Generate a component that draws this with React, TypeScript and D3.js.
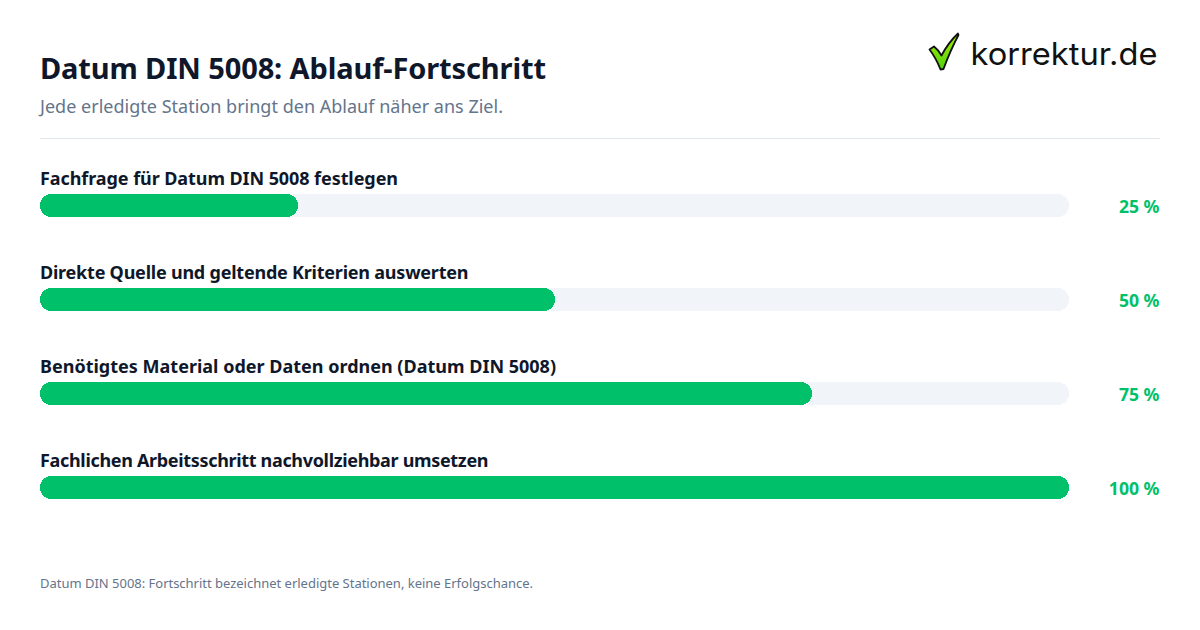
import { useEffect, useRef } from "react";
import * as d3 from "d3";

const steps = [
  "Fachfrage für Datum DIN 5008 festlegen",
  "Direkte Quelle und geltende Kriterien auswerten",
  "Benötigtes Material oder Daten ordnen (Datum DIN 5008)",
  "Fachlichen Arbeitsschritt nachvollziehbar umsetzen",
];
const progress = [25, 50, 75, 100];
// the source font is not installed, so the label lengths are pinned
const stepWidths = [358, 428.5, 516, 448.5];

const width = 1200;
const height = 630;
const font = "'Noto Sans', sans-serif";
const green = "#00c16a";

const buildChart = (ref: SVGSVGElement) => {
  const svg = d3.select(ref);
  svg.selectAll("*").remove();

  const x = d3.scaleLinear().domain([0, 100]).range([40, 1069]);
  const y = d3.scalePoint<string>().domain(steps).range([194, 476]);
  const barHeight = 23;

  svg.append("rect").attr("width", width).attr("height", height).attr("fill", "#fff");

  svg.append("text").text("Datum DIN 5008: Ablauf-Fortschritt")
    .attr("x", 40).attr("y", 79)
    .attr("textLength", 506)
    .attr("font-size", 29).attr("font-weight", 700).attr("fill", "#0f172a");
  svg.append("text").text("Jede erledigte Station bringt den Ablauf näher ans Ziel.")
    .attr("x", 40).attr("y", 113)
    .attr("textLength", 463)
    .attr("font-size", 18).attr("fill", "#64748b");
  svg.append("line")
    .attr("x1", 40).attr("x2", 1160).attr("y1", 138.5).attr("y2", 138.5)
    .attr("stroke", "#e2e8f0");

  const rows = svg.selectAll("g.row").data(steps).enter().append("g").attr("class", "row");

  rows.append("text").text((d) => d)
    .attr("x", 40).attr("y", (d) => y(d)! - 9.5)
    .attr("textLength", (_, i) => stepWidths[i])
    .attr("font-size", 18).attr("font-weight", 700).attr("fill", "#0f172a");

  rows.append("rect")
    .attr("x", x(0)).attr("y", (d) => y(d)!)
    .attr("width", x(100) - x(0)).attr("height", barHeight)
    .attr("rx", barHeight / 2).attr("fill", "#f1f5f9")
    .attr("shape-rendering", "crispEdges");

  rows.append("rect")
    .attr("x", x(0)).attr("y", (d) => y(d)!)
    .attr("width", (_, i) => Math.ceil(x(progress[i])) - x(0)).attr("height", barHeight)
    .attr("rx", barHeight / 2).attr("fill", green)
    .attr("shape-rendering", "crispEdges");

  rows.append("text").text((_, i) => `${progress[i]} %`)
    .attr("x", 1159.5).attr("y", (d) => y(d)! + 19)
    .attr("text-anchor", "end")
    .attr("font-size", 17.6).attr("font-weight", 700).attr("fill", green);

  svg.append("text").text("Datum DIN 5008: Fortschritt bezeichnet erledigte Stationen, keine Erfolgschance.")
    .attr("x", 40).attr("y", 588)
    .attr("textLength", 493)
    .attr("font-size", 13).attr("fill", "#64748b");

  // logo
  const logo = svg.append("g");
  const grad = svg.append("defs").append("linearGradient")
    .attr("id", "tick").attr("x1", 0).attr("y1", 0).attr("x2", 0).attr("y2", 1);
  grad.append("stop").attr("offset", "0%").attr("stop-color", "#a8f000");
  grad.append("stop").attr("offset", "100%").attr("stop-color", "#4fd010");
  logo.append("path")
    .attr("d", "M929.5 49.5 L934 46.5 Q938.5 50 941.5 55.5 Q948 43 958 33.5 L958.5 35 Q950.5 50 943.5 69 L940.5 69.5 Q936 58 929.5 49.5 Z")
    .attr("fill", "url(#tick)").attr("stroke", "#111").attr("stroke-width", 1.8).attr("stroke-linejoin", "round");
  logo.append("text").text("korrektur.de")
    .attr("x", 970.5).attr("y", 65)
    .attr("font-family", "Inter, sans-serif")
    .attr("textLength", 187).attr("lengthAdjust", "spacingAndGlyphs")
    .attr("font-size", 31).attr("fill", "#111");
};

export default function App() {
  const ref = useRef<SVGSVGElement>(null);
  useEffect(() => {
    if (ref.current) buildChart(ref.current);
  }, []);
  return (
    <svg
      ref={ref}
      width={width}
      height={height}
      fontFamily={font}
      style={{ position: "absolute", left: 0, top: 0, display: "block" }}
    />
  );
}
